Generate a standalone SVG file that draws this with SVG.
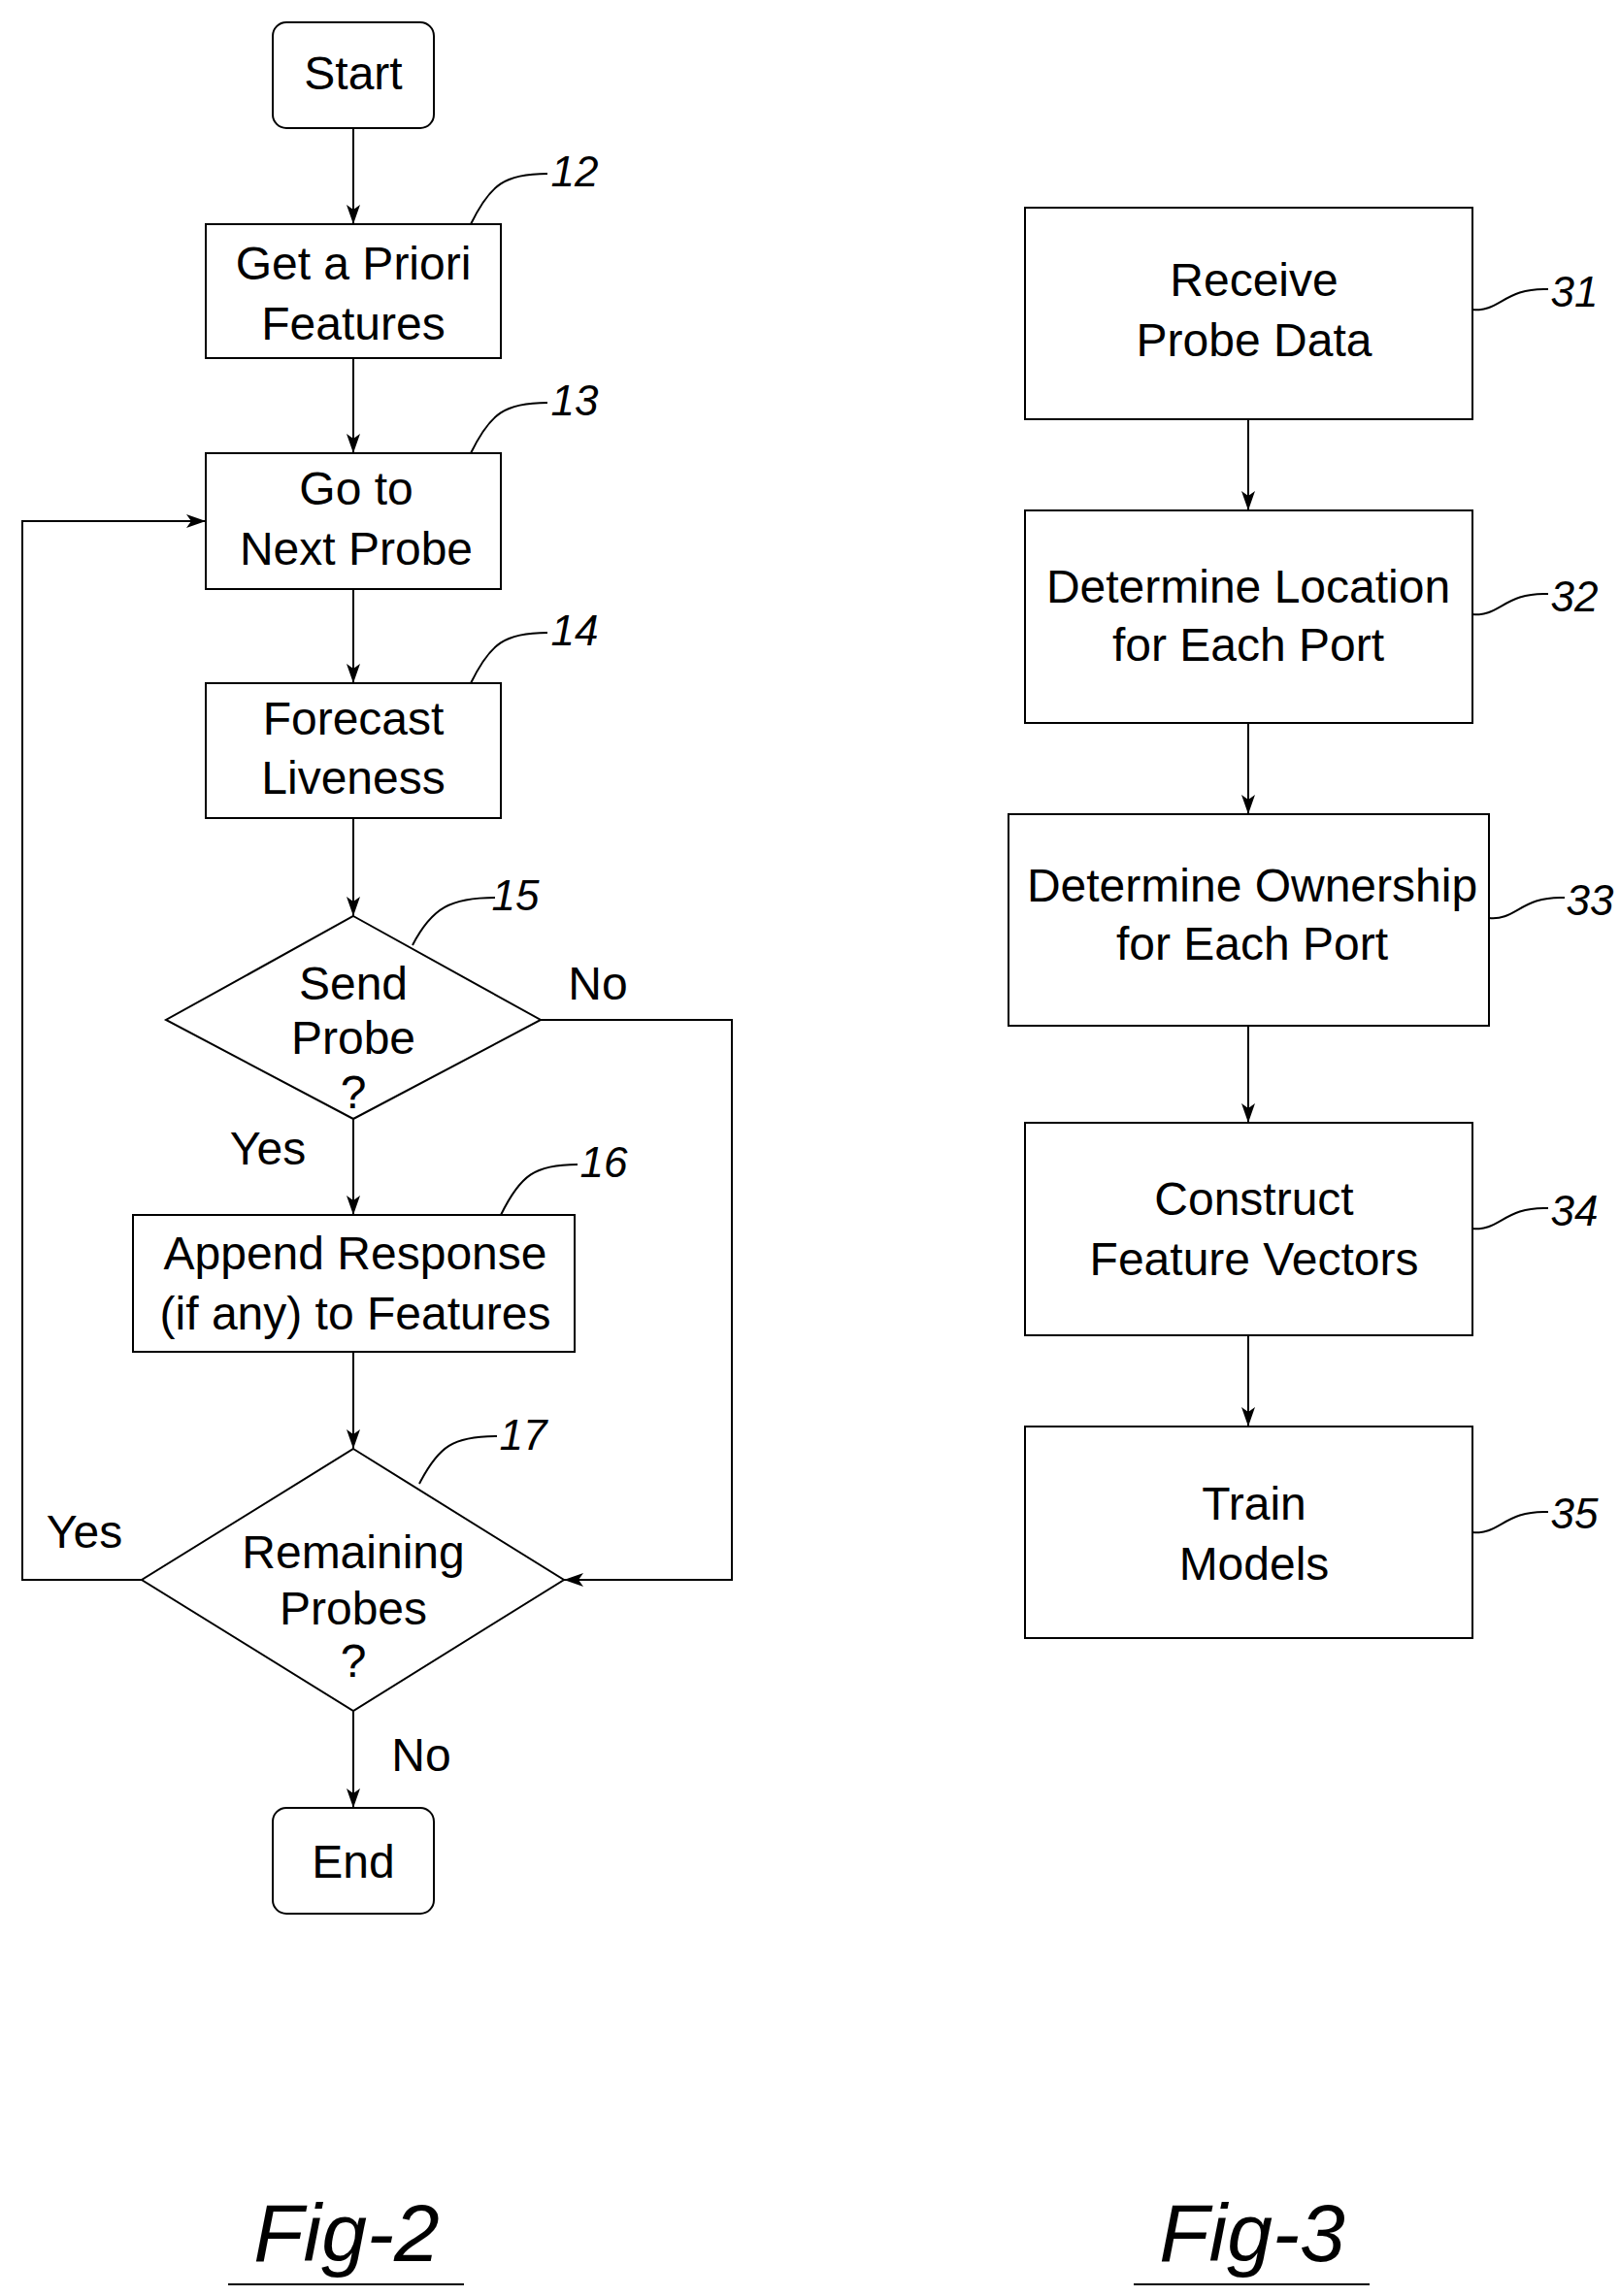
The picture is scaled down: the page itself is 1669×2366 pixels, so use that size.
<svg xmlns="http://www.w3.org/2000/svg" width="1669" height="2366" viewBox="0 0 1669 2366">
<style>
.b{fill:#fff;stroke:#000;stroke-width:2}
.t{font-family:"Liberation Sans",Arial,sans-serif;font-size:48px;text-anchor:middle;fill:#000}
.n{font-family:"Liberation Sans",Arial,sans-serif;font-size:44px;font-style:italic;text-anchor:middle;fill:#000}
.l{fill:none;stroke:#000;stroke-width:2}
.fg{font-family:"Liberation Sans",Arial,sans-serif;font-size:84px;font-style:italic;text-anchor:middle;fill:#000}
</style>
<defs><marker id="a" markerWidth="20" markerHeight="14" refX="20" refY="7" orient="auto" markerUnits="userSpaceOnUse"><path d="M0,0 L20,7 L0,14 L5,7 Z" fill="#000"/></marker></defs>
<rect width="1669" height="2366" fill="#fff"/>
<g id="connectors" class="l">
<line x1="364" y1="132" x2="364" y2="231" marker-end="url(#a)"/>
<line x1="364" y1="369" x2="364" y2="467" marker-end="url(#a)"/>
<line x1="364" y1="607" x2="364" y2="704" marker-end="url(#a)"/>
<line x1="364" y1="843" x2="364" y2="944" marker-end="url(#a)"/>
<line x1="364" y1="1153" x2="364" y2="1252" marker-end="url(#a)"/>
<line x1="364" y1="1393" x2="364" y2="1493" marker-end="url(#a)"/>
<line x1="364" y1="1763" x2="364" y2="1863" marker-end="url(#a)"/>
<polyline points="557,1051 754,1051 754,1628 581,1628" marker-end="url(#a)"/>
<polyline points="146,1628 23,1628 23,537 212,537" marker-end="url(#a)"/>
<line x1="1286" y1="432" x2="1286" y2="526" marker-end="url(#a)"/>
<line x1="1286" y1="745" x2="1286" y2="839" marker-end="url(#a)"/>
<line x1="1286" y1="1057" x2="1286" y2="1157" marker-end="url(#a)"/>
<line x1="1286" y1="1376" x2="1286" y2="1470" marker-end="url(#a)"/>
<path d="M485,231 C505,190 520,179 564,179"/>
<path d="M485,467 C505,426 520,415 564,415"/>
<path d="M485,704 C505,663 520,652 564,652"/>
<path d="M425,974 C445,935 465,925 510,925"/>
<path d="M516,1252 C536,1211 551,1200 595,1200"/>
<path d="M432,1529 C452,1490 467,1480 512,1480"/>
<path d="M1517,319 C1545,322 1550,296 1595,298"/>
<path d="M1517,633 C1545,636 1550,610 1595,612"/>
<path d="M1534,946 C1562,949 1567,923 1612,925"/>
<path d="M1517,1266 C1545,1269 1550,1243 1595,1245"/>
<path d="M1517,1579 C1545,1582 1550,1556 1595,1558"/>
<line x1="235" y1="2354" x2="478" y2="2354"/>
<line x1="1168" y1="2354" x2="1411" y2="2354"/>
</g>
<g id="start"><rect class="b" x="281" y="23" width="166" height="109" rx="14"/><text class="t" x="364" y="92">Start</text></g>
<g id="n12"><rect class="b" x="212" y="231" width="304" height="138"/><text class="t" x="364" y="288">Get a Priori</text><text class="t" x="364" y="350">Features</text><text class="n" x="592" y="192">12</text></g>
<g id="n13"><rect class="b" x="212" y="467" width="304" height="140"/><text class="t" x="367" y="520">Go to</text><text class="t" x="367" y="582">Next Probe</text><text class="n" x="592" y="428">13</text></g>
<g id="n14"><rect class="b" x="212" y="704" width="304" height="139"/><text class="t" x="364" y="757">Forecast</text><text class="t" x="364" y="818">Liveness</text><text class="n" x="592" y="665">14</text></g>
<g id="n15"><polygon class="b" points="364,944 557,1051 364,1153 171,1051"/><text class="t" x="364" y="1030">Send</text><text class="t" x="364" y="1086">Probe</text><text class="t" x="364" y="1142">?</text><text class="n" x="531" y="938">15</text><text class="t" x="616" y="1030">No</text><text class="t" x="276" y="1200">Yes</text></g>
<g id="n16"><rect class="b" x="137" y="1252" width="455" height="141"/><text class="t" x="366" y="1308">Append Response</text><text class="t" x="366" y="1370">(if any) to Features</text><text class="n" x="622" y="1213">16</text></g>
<g id="n17"><polygon class="b" points="364,1493 581,1628 364,1763 146,1628"/><text class="t" x="364" y="1616">Remaining</text><text class="t" x="364" y="1674">Probes</text><text class="t" x="364" y="1728">?</text><text class="n" x="539" y="1494">17</text><text class="t" x="87" y="1595">Yes</text><text class="t" x="434" y="1825">No</text></g>
<g id="end"><rect class="b" x="281" y="1863" width="166" height="109" rx="14"/><text class="t" x="364" y="1935">End</text></g>
<g id="n31"><rect class="b" x="1056" y="214" width="461" height="218"/><text class="t" x="1292" y="305">Receive</text><text class="t" x="1292" y="367">Probe Data</text><text class="n" x="1622" y="316">31</text></g>
<g id="n32"><rect class="b" x="1056" y="526" width="461" height="219"/><text class="t" x="1286" y="621">Determine Location</text><text class="t" x="1286" y="681">for Each Port</text><text class="n" x="1622" y="630">32</text></g>
<g id="n33"><rect class="b" x="1039" y="839" width="495" height="218"/><text class="t" x="1290" y="929">Determine Ownership</text><text class="t" x="1290" y="989">for Each Port</text><text class="n" x="1638" y="943">33</text></g>
<g id="n34"><rect class="b" x="1056" y="1157" width="461" height="219"/><text class="t" x="1292" y="1252">Construct</text><text class="t" x="1292" y="1314">Feature Vectors</text><text class="n" x="1622" y="1263">34</text></g>
<g id="n35"><rect class="b" x="1056" y="1470" width="461" height="218"/><text class="t" x="1292" y="1566">Train</text><text class="t" x="1292" y="1628">Models</text><text class="n" x="1622" y="1575">35</text></g>
<g id="figs"><text class="fg" x="357" y="2330">Fig-2</text><text class="fg" x="1290" y="2330">Fig-3</text></g>
</svg>
